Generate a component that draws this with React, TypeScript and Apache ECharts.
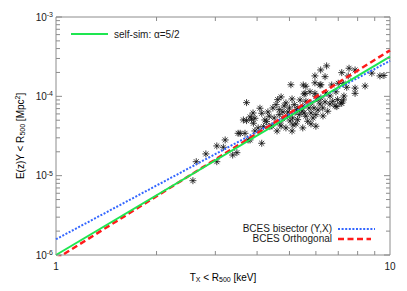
import React, { useEffect, useRef } from 'react';
import * as echarts from 'echarts';

const tempKeV = [
  2.57, 2.63, 2.81, 3.03, 3.17, 3.21, 3.03, 3.38, 3.48, 3.56, 3.81, 4.13, 3.64, 3.72, 3.85, 3.94, 3.72, 4.08, 4.13, 3.89,
  3.81, 3.51, 3.68, 3.76, 3.90, 4.18, 4.27, 4.37, 4.03, 3.94,
  5.05, 5.60, 5.96, 6.21, 4.61, 4.56, 4.46, 4.66, 4.88, 5.00, 5.17, 5.29, 5.48, 5.60, 5.80, 6.00, 6.21, 6.43, 6.74, 6.97,
  7.13, 4.66, 4.50, 4.35, 4.94, 5.11, 5.35, 5.60, 5.80, 6.00, 4.88, 4.66, 5.48, 5.67, 5.29, 6.00, 6.29, 6.51, 4.78, 5.20,
  5.45, 5.02, 4.78, 5.23, 5.72, 5.88, 5.38, 4.82, 4.31, 4.22, 6.17, 6.39, 6.61, 6.85, 6.09, 5.09, 4.72, 5.53, 5.76, 4.43,
  4.59, 5.09, 5.80, 6.30, 6.89, 7.28, 4.95, 5.30, 5.53, 5.12, 4.72, 5.92, 6.09, 6.61,
  6.46, 6.20, 5.96, 7.17, 6.39, 7.50, 7.86, 9.33, 9.59, 8.82, 7.25, 7.00, 6.69, 7.86, 7.86, 5.50, 5.96, 7.17, 7.25, 5.57,
  6.93, 8.42, 7.42, 7.54, 6.17,
];
const yMpc2 = [
  8.65e-6, 1.50e-5, 1.88e-5, 2.37e-5, 2.28e-5, 2.82e-5, 1.50e-5, 1.82e-5, 1.95e-5, 3.42e-5, 2.82e-5, 2.56e-5, 5.04e-5, 4.94e-5, 5.14e-5, 5.29e-5, 8.33e-5, 7.08e-5, 6.12e-5, 6.17e-5,
  5.50e-5, 3.42e-5, 3.42e-5, 2.82e-5, 4.58e-5, 4.15e-5, 4.80e-5, 4.15e-5, 4.00e-5, 3.66e-5,
  1.40e-4, 1.34e-4, 1.48e-4, 1.40e-4, 9.09e-5, 7.86e-5, 7.14e-5, 6.80e-5, 8.26e-5, 7.14e-5, 7.86e-5, 6.80e-5, 7.50e-5, 8.67e-5, 8.26e-5, 1.00e-4, 9.55e-5, 1.10e-4, 8.67e-5, 9.09e-5,
  8.26e-5, 5.88e-5, 5.34e-5, 5.61e-5, 5.61e-5, 5.34e-5, 5.88e-5, 5.61e-5, 6.17e-5, 5.88e-5, 4.00e-5, 4.62e-5, 4.00e-5, 4.85e-5, 5.08e-5, 4.20e-5, 7.14e-5, 6.49e-5, 6.36e-5, 6.36e-5,
  6.55e-5, 4.90e-5, 5.19e-5, 4.49e-5, 7.14e-5, 5.34e-5, 9.01e-5, 7.56e-5, 6.36e-5, 5.04e-5, 8.02e-5, 8.50e-5, 1.01e-4, 7.56e-5, 6.74e-5, 9.27e-5, 9.83e-5, 1.07e-4, 1.14e-4, 4.23e-5,
  3.66e-5, 3.66e-5, 4.49e-5, 5.66e-5, 1.14e-4, 1.01e-4, 6.36e-5, 7.14e-5, 6.17e-5, 4.36e-5, 4.23e-5, 7.14e-5, 9.01e-5, 8.02e-5,
  2.42e-4, 2.15e-4, 1.81e-4, 1.99e-4, 1.77e-4, 1.81e-4, 2.15e-4, 1.81e-4, 1.83e-4, 1.96e-4, 1.46e-4, 1.46e-4, 1.39e-4, 1.09e-4, 1.27e-4, 1.39e-4, 1.09e-4, 8.18e-5, 9.01e-5, 1.09e-4,
  7.42e-5, 1.35e-4, 1.30e-4, 2.26e-4, 1.39e-4,
];

const fitT = [1, 10];
const selfSimY = [1.0e-6, 3.16e-4];
const bisectorY = [1.58e-6, 2.81e-4];
const orthogonalY = [8.9e-7, 3.8e-4];

const X_MIN = 1;
const X_MAX = 10;
const Y_MIN = 1e-6;
const Y_MAX = 1e-3;
const xMinorTicks = [2, 3, 4, 5, 6, 7, 8, 9];
const yDecades = [1e-6, 1e-5, 1e-4];
const yMinorMult = [2, 3, 4, 5, 6, 7, 8, 9];

const FONT = '"Liberation Sans", Arial, Helvetica, sans-serif';
const GREEN = '#1ee650';
const BLUE = '#3366ff';
const RED = '#ff1a1a';
const AXIS = '#8c8c8c';
const TXT = '#1a1a1a';

export default function App() {
  const ref = useRef<HTMLDivElement>(null);
  useEffect(() => {
    if (!ref.current) return;
    const chart = echarts.init(ref.current, undefined, { renderer: 'svg' });
    const yTickData: number[][] = [];
    yDecades.forEach((d) => {
      yTickData.push([X_MIN, d, 6]);
      yMinorMult.forEach((m) => yTickData.push([X_MIN, d * m, 4]));
    });
    yTickData.push([X_MIN, Y_MAX, 6]);

    const sub = { fontSize: 7, fontFamily: FONT, color: TXT, padding: [5, 0, 0, 0] };
    const sup = { fontSize: 7, fontFamily: FONT, color: TXT, padding: [0, 0, 5, 0] };
    const base = { fontSize: 10, fontFamily: FONT, color: TXT };

    const option: any = {
      animation: false,
      backgroundColor: '#fff',
      grid: { left: 56, right: 17, top: 17, bottom: 36, show: true, borderColor: AXIS, borderWidth: 1, backgroundColor: 'transparent' },
      xAxis: {
        type: 'log', logBase: 10, min: X_MIN, max: X_MAX,
        axisLine: { show: false }, axisTick: { show: false }, splitLine: { show: false },
        axisLabel: { fontSize: 10, fontFamily: FONT, color: TXT, margin: 6 },
      },
      yAxis: {
        type: 'log', logBase: 10, min: Y_MIN, max: Y_MAX,
        axisLine: { show: false }, axisTick: { show: false }, splitLine: { show: false },
        axisLabel: {
          margin: 3,
          formatter: (v: number) => `{b|10}{s|${Math.round(Math.log10(v))}}`,
          rich: { b: base, s: sup },
        },
      },
      series: [
        {
          type: 'scatter',
          data: tempKeV.map((t, i) => [t, yMpc2[i]]),
          symbol: 'path://M5,0L5,10M0,5L10,5M1.5,1.5L8.5,8.5M1.5,8.5L8.5,1.5',
          symbolSize: 7,
          itemStyle: { color: 'rgba(0,0,0,0)', borderColor: '#111', borderWidth: 1 },
          z: 2,
        },
        {
          type: 'line', data: fitT.map((t, i) => [t, bisectorY[i]]), showSymbol: false, symbol: 'none',
          lineStyle: { color: BLUE, width: 2, type: [2, 1.6] }, z: 3,
        },
        {
          type: 'line', data: fitT.map((t, i) => [t, orthogonalY[i]]), showSymbol: false, symbol: 'none',
          lineStyle: { color: RED, width: 2.5, type: [6, 3.5] }, z: 4,
        },
        {
          type: 'line', data: fitT.map((t, i) => [t, selfSimY[i]]), showSymbol: false, symbol: 'none',
          lineStyle: { color: GREEN, width: 2 }, z: 5,
        },
        {
          type: 'custom', z: 6, silent: true,
          data: xMinorTicks.map((v) => [v, Y_MIN]),
          renderItem: (_p: any, api: any) => {
            const x = api.value(0);
            const b = api.coord([x, Y_MIN]);
            const t = api.coord([x, Y_MAX]);
            const st = { stroke: AXIS, lineWidth: 1 };
            return {
              type: 'group',
              children: [
                { type: 'line', shape: { x1: b[0], y1: b[1], x2: b[0], y2: b[1] - 4 }, style: st },
                { type: 'line', shape: { x1: t[0], y1: t[1], x2: t[0], y2: t[1] + 4 }, style: st },
              ],
            };
          },
        },
        {
          type: 'custom', z: 6, silent: true,
          data: yTickData,
          renderItem: (_p: any, api: any) => {
            const y = api.value(1);
            const len = api.value(2);
            const l = api.coord([X_MIN, y]);
            const r = api.coord([X_MAX, y]);
            const st = { stroke: AXIS, lineWidth: 1 };
            return {
              type: 'group',
              children: [
                { type: 'line', shape: { x1: l[0], y1: l[1], x2: l[0] + len, y2: l[1] }, style: st },
                { type: 'line', shape: { x1: r[0], y1: r[1], x2: r[0] - len, y2: r[1] }, style: st },
              ],
            };
          },
        },
      ],
      graphic: [
        {
          type: 'text', x: 20, y: 136, rotation: Math.PI / 2,
          style: {
            text: '{b|E(z)Y < R}{s|500}{b| [Mpc}{p|2}{b|]}',
            rich: { b: base, s: sub, p: sup },
            align: 'center', verticalAlign: 'middle',
          },
        },
        {
          type: 'text', x: 223, y: 277,
          style: {
            text: '{b|T}{s|X}{b| < R}{s|500}{b| [keV]}',
            rich: { b: base, s: sub },
            align: 'center', verticalAlign: 'middle',
          },
        },
        { type: 'line', shape: { x1: 71, y1: 34, x2: 108, y2: 34 }, style: { stroke: GREEN, lineWidth: 2 } },
        {
          type: 'text', x: 114, y: 34,
          style: { text: 'self-sim: α=5/2', fontSize: 10, fontFamily: FONT, fill: TXT, align: 'left', verticalAlign: 'middle' },
        },
        {
          type: 'text', x: 332, y: 228.5,
          style: { text: 'BCES bisector (Y,X)', fontSize: 10, fontFamily: FONT, fill: TXT, align: 'right', verticalAlign: 'middle' },
        },
        { type: 'line', shape: { x1: 338, y1: 229, x2: 375, y2: 229 }, style: { stroke: BLUE, lineWidth: 2, lineDash: [2, 1.6] } },
        {
          type: 'text', x: 332, y: 238.5,
          style: { text: 'BCES Orthogonal', fontSize: 10, fontFamily: FONT, fill: TXT, align: 'right', verticalAlign: 'middle' },
        },
        { type: 'line', shape: { x1: 338, y1: 239, x2: 371, y2: 239 }, style: { stroke: RED, lineWidth: 2.5, lineDash: [6, 3.5] } },
      ],
    };
    chart.setOption(option);
    return () => chart.dispose();
  }, []);
  return <div ref={ref} style={{ position: 'fixed', left: 0, top: 0, width: 407, height: 291, background: '#fff' }} />;
}
